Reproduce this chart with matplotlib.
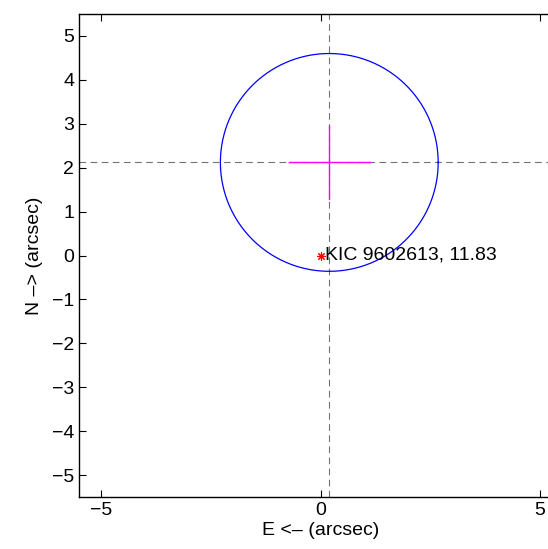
import numpy as np
import matplotlib
matplotlib.use("Agg")
import matplotlib.pyplot as plt

plt.rcParams['font.family'] = ['Liberation Sans', 'DejaVu Sans']

# Data
star_x, star_y = [0.0], [0.0]
star_label = "KIC 9602613, 11.83"
centroid_x, centroid_y = 0.2, 2.12
centroid_err_x, centroid_err_y = 0.92, 0.83
circle_radius = 2.48
x_ticks = [-5, 0, 5]
y_ticks = [-5, -4, -3, -2, -1, 0, 1, 2, 3, 4, 5]
lim = (-5.5, 5.5)

fig = plt.figure(figsize=(5.48, 5.49), dpi=100)
ax = fig.add_axes([79/548, 52/549, 483/548, 483/549])

ax.axvline(centroid_x, color='0.45', ls=(0, (6, 4)), lw=0.8)
ax.axhline(centroid_y, color='0.45', ls=(0, (6, 4)), lw=0.8)

t = np.linspace(0, 2*np.pi, 400)
ax.plot(centroid_x + circle_radius*np.cos(t), centroid_y + circle_radius*np.sin(t),
        color='blue', lw=0.9)

ax.plot([centroid_x - centroid_err_x, centroid_x + centroid_err_x],
        [centroid_y, centroid_y], color='magenta', lw=1.0)
ax.plot([centroid_x, centroid_x],
        [centroid_y - centroid_err_y, centroid_y + centroid_err_y], color='magenta', lw=1.0)

ax.plot(star_x, star_y, marker=(8, 2, 0), color='red', ms=6, ls='none', mew=0.8)
ax.text(star_x[0] + 0.1, star_y[0], star_label, fontsize=14, va='center', ha='left')

ax.set_xlim(*lim)
ax.set_ylim(*lim)
ax.set_xticks(x_ticks)
ax.set_yticks(y_ticks)
ax.tick_params(direction='in', top=True, right=True, length=5, width=0.8, labelsize=14)
for s in ax.spines.values():
    s.set_linewidth(1.0)
ax.set_xlabel("E <\u2013 (arcsec)", fontsize=14, labelpad=2)
ax.set_ylabel("N \u2013> (arcsec)", fontsize=14, labelpad=6)

fig.savefig("out.png", dpi=100)
